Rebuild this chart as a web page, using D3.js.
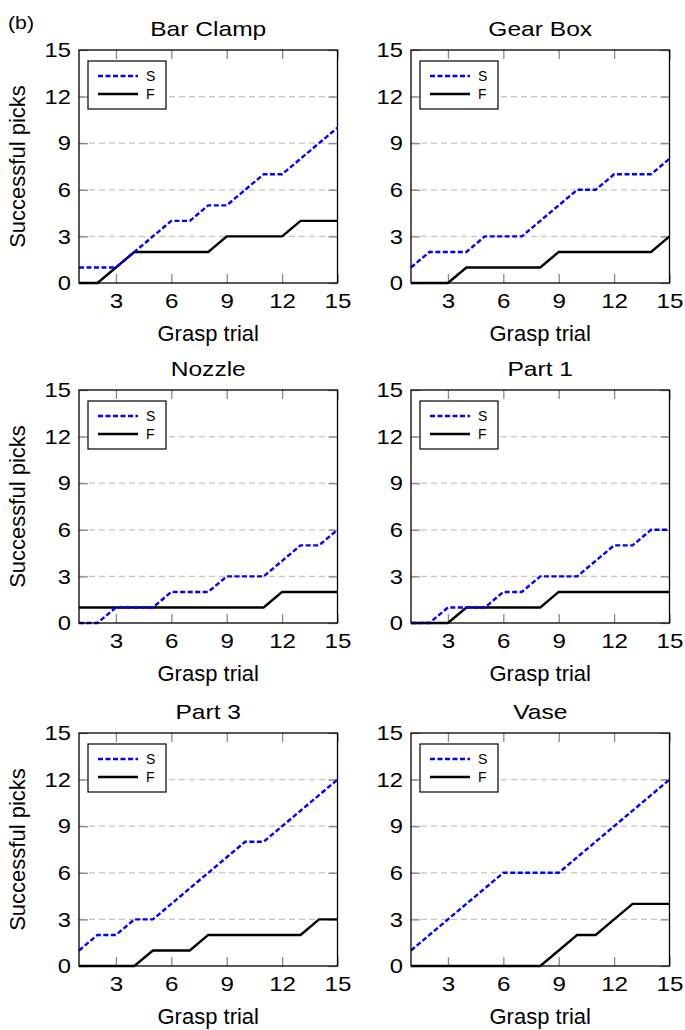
<!DOCTYPE html>
<html>
<head>
<meta charset="utf-8">
<script src="https://cdn.jsdelivr.net/npm/d3@7"></script>
<style>
  body { margin: 0; background: #fff; }
  text { font-family: "Liberation Sans", Arial, sans-serif; fill: #000; }
</style>
</head>
<body>
<script>
// trials 1..15
var trials = d3.range(1, 16);

var titles = ["Bar Clamp", "Gear Box", "Nozzle", "Part 1", "Part 3", "Vase"];

// S = dashed blue, F = solid black
var barClampS = [1, 1, 1, 2, 3, 4, 4, 5, 5, 6, 7, 7, 8, 9, 10];
var barClampF = [0, 0, 1, 2, 2, 2, 2, 2, 3, 3, 3, 3, 4, 4, 4];
var gearBoxS  = [1, 2, 2, 2, 3, 3, 3, 4, 5, 6, 6, 7, 7, 7, 8];
var gearBoxF  = [0, 0, 0, 1, 1, 1, 1, 1, 2, 2, 2, 2, 2, 2, 3];
var nozzleS   = [0, 0, 1, 1, 1, 2, 2, 2, 3, 3, 3, 4, 5, 5, 6];
var nozzleF   = [1, 1, 1, 1, 1, 1, 1, 1, 1, 1, 1, 2, 2, 2, 2];
var part1S    = [0, 0, 1, 1, 1, 2, 2, 3, 3, 3, 4, 5, 5, 6, 6];
var part1F    = [0, 0, 0, 1, 1, 1, 1, 1, 2, 2, 2, 2, 2, 2, 2];
var part3S    = [1, 2, 2, 3, 3, 4, 5, 6, 7, 8, 8, 9, 10, 11, 12];
var part3F    = [0, 0, 0, 0, 1, 1, 1, 2, 2, 2, 2, 2, 2, 3, 3];
var vaseS     = [1, 2, 3, 4, 5, 6, 6, 6, 6, 7, 8, 9, 10, 11, 12];
var vaseF     = [0, 0, 0, 0, 0, 0, 0, 0, 1, 2, 2, 3, 4, 4, 4];

var seriesS = [barClampS, gearBoxS, nozzleS, part1S, part3S, vaseS];
var seriesF = [barClampF, gearBoxF, nozzleF, part1F, part3F, vaseF];

var xTicks = [3, 6, 9, 12, 15];
var yTicks = [0, 3, 6, 9, 12, 15];
var legendNames = ["S", "F"];

var svg = d3.select("body").append("svg").attr("width", 685).attr("height", 1030);

var colLeft = [79, 411];
var rowTop = [50, 390, 733];
var w = 258.5, h = 233;

// the original glyphs are a bit wider than Arial, stretch them a little
function stretch(sel, f) {
  sel.each(function () {
    var len = this.getComputedTextLength();
    d3.select(this).attr("textLength", len * f).attr("lengthAdjust", "spacingAndGlyphs");
  });
}

var lab = svg.append("text").attr("x", 8).attr("y", 29).style("font-size", "19px").text("(b)");
stretch(lab, 1.12);

titles.forEach(function (t, i) {
  var left = colLeft[i % 2], top = rowTop[Math.floor(i / 2)];
  var g = svg.append("g").attr("transform", "translate(" + left + "," + top + ")");

  var x = d3.scaleLinear().domain([1, 15]).range([0, w]);
  var y = d3.scaleLinear().domain([0, 15]).range([h, 0]);

  // dashed grid
  g.append("g").selectAll("line").data(yTicks.filter(function (d) { return d > 0 && d < 15; }))
    .enter().append("line")
    .attr("x1", 0).attr("x2", w)
    .attr("y1", function (d) { return y(d); }).attr("y2", function (d) { return y(d); })
    .attr("stroke", "#c4c4c4").attr("stroke-width", 1.2).attr("stroke-dasharray", "6,4");

  // inward ticks on all sides
  var tickLen = 9;
  function styleAxis(a) {
    a.select(".domain").remove();
    a.selectAll(".tick line").attr("stroke", "#8a8a8a").attr("stroke-width", 1.3);
  }
  var bottom = g.append("g").attr("transform", "translate(0," + h + ")")
    .call(d3.axisBottom(x).tickValues(xTicks).tickSize(-tickLen));
  styleAxis(bottom);
  bottom.selectAll("text").style("font-size", "21px").attr("dy", null).attr("y", 25);
  stretch(bottom.selectAll("text"), 1.15);
  var topAx = g.append("g").call(d3.axisTop(x).tickValues(xTicks).tickSize(-tickLen).tickFormat(""));
  styleAxis(topAx);
  var leftAx = g.append("g")
    .call(d3.axisLeft(y).tickValues(yTicks).tickSize(-tickLen));
  styleAxis(leftAx);
  leftAx.selectAll("text").style("font-size", "21px").attr("x", -8);
  stretch(leftAx.selectAll("text"), 1.13);
  var rightAx = g.append("g").attr("transform", "translate(" + w + ",0)")
    .call(d3.axisRight(y).tickValues(yTicks).tickSize(-tickLen).tickFormat(""));
  styleAxis(rightAx);

  // lines
  var line = d3.line()
    .x(function (d, k) { return x(trials[k]); })
    .y(function (d) { return y(d); });

  g.append("path").datum(seriesF[i]).attr("d", line)
    .attr("fill", "none").attr("stroke", "#000").attr("stroke-width", 2.4);
  g.append("path").datum(seriesS[i]).attr("d", line)
    .attr("fill", "none").attr("stroke", "#0000ff").attr("stroke-width", 2.4)
    .attr("stroke-dasharray", "5,2.5");

  // frame
  g.append("rect").attr("width", w).attr("height", h)
    .attr("fill", "none").attr("stroke", "#000").attr("stroke-width", 1.3);

  // legend
  var lg = g.append("g").attr("transform", "translate(9,11)");
  lg.append("rect").attr("width", 78).attr("height", 48)
    .attr("fill", "#fff").attr("stroke", "#000").attr("stroke-width", 1.2);
  legendNames.forEach(function (n, k) {
    var ly = 15 + k * 18;
    lg.append("line").attr("x1", 10).attr("x2", 50).attr("y1", ly).attr("y2", ly)
      .attr("stroke", k === 0 ? "#0000ff" : "#000").attr("stroke-width", 2.4)
      .attr("stroke-dasharray", k === 0 ? "5,2.5" : null);
    lg.append("text").attr("x", 58).attr("y", ly).attr("dy", "0.35em")
      .style("font-size", "14px").text(n);
  });

  // titles and axis labels
  var ttl = g.append("text").attr("x", w / 2).attr("y", -14).attr("text-anchor", "middle")
    .style("font-size", "21px").text(t);
  stretch(ttl, 1.17);
  g.append("text").attr("x", w / 2).attr("y", h + 58).attr("text-anchor", "middle")
    .style("font-size", "22px").text("Grasp trial");
  if (i % 2 === 0) {
    g.append("text").attr("transform", "translate(" + (-54) + "," + (h / 2) + ") rotate(-90)")
      .attr("text-anchor", "middle").style("font-size", "22px").text("Successful picks");
  }
});
</script>
</body>
</html>
